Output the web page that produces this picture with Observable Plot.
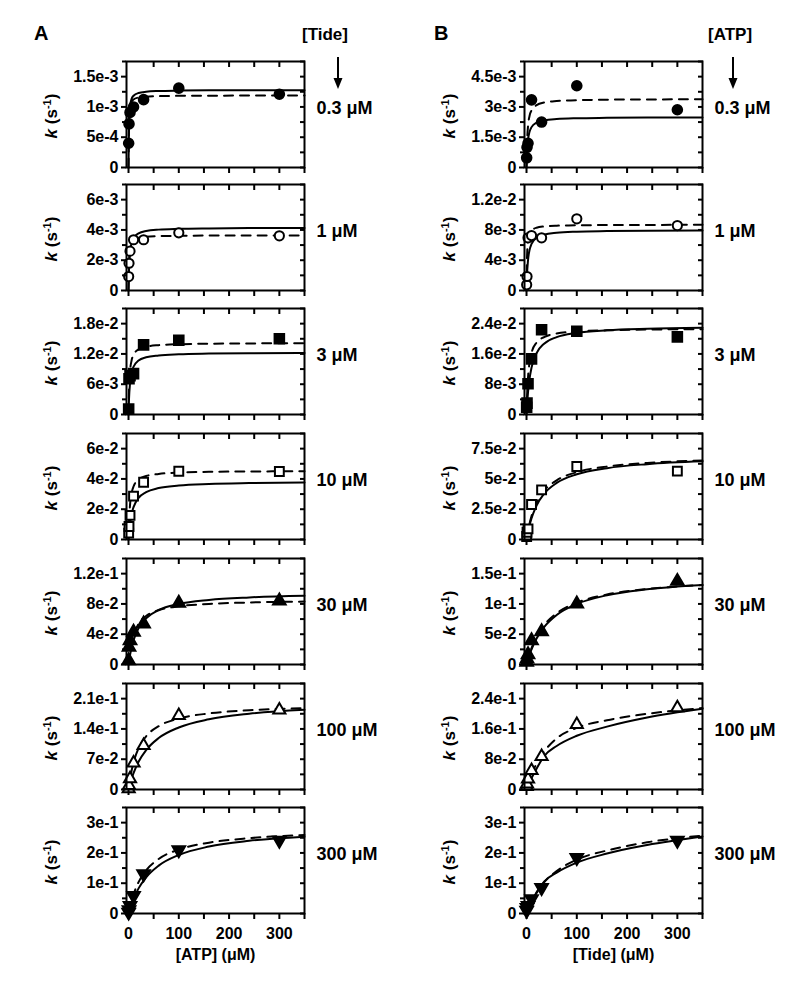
<!DOCTYPE html>
<html><head><meta charset="utf-8">
<script src="https://cdn.jsdelivr.net/npm/d3@7"></script>
<script src="https://cdn.jsdelivr.net/npm/@observablehq/plot@0.6"></script>
<style>
body{margin:0;background:#fff;}
#fig{position:relative;width:800px;height:999px;overflow:hidden;font-family:"Liberation Sans",Arial,sans-serif;font-weight:bold;color:#000;background:#fff;}
#fig svg{position:absolute;}
</style></head><body><div id="fig"></div>
<script>
// ---------- data (rates in units of 1e-3 s^-1) ----------
const xData = [0.3, 1, 3, 10, 30, 100, 300];               // µM, varied substrate
const curveX = [0, 1, 3, 6, 10, 20, 35, 60, 100, 160, 240, 350]; // sample positions
const xTicksLabeled = [0, 100, 200, 300];
const xTicksMinor = [50, 150, 250, 350];
const xTicksTop = [50, 100, 150, 200, 250, 300];

const concA = ["0.3 μM", "1 μM", "3 μM", "10 μM", "30 μM", "100 μM", "300 μM"];
const concB = ["0.3 μM", "1 μM", "3 μM", "10 μM", "30 μM", "100 μM", "300 μM"];
const yMaxA = [1.75, 7, 21, 70, 140, 245, 350];
const yMaxB = [5.25, 14, 28, 87.5, 175, 280, 350];
const tickLabelsA = [
  ["0", "5e-4", "1e-3", "1.5e-3"], ["0", "2e-3", "4e-3", "6e-3"], ["0", "6e-3", "1.2e-2", "1.8e-2"],
  ["0", "2e-2", "4e-2", "6e-2"], ["0", "4e-2", "8e-2", "1.2e-1"], ["0", "7e-2", "1.4e-1", "2.1e-1"],
  ["0", "1e-1", "2e-1", "3e-1"]];
const tickLabelsB = [
  ["0", "1.5e-3", "3e-3", "4.5e-3"], ["0", "4e-3", "8e-3", "1.2e-2"], ["0", "8e-3", "1.6e-2", "2.4e-2"],
  ["0", "2.5e-2", "5e-2", "7.5e-2"], ["0", "5e-2", "1e-1", "1.5e-1"], ["0", "8e-2", "1.6e-1", "2.4e-1"],
  ["0", "1e-1", "2e-1", "3e-1"]];

// Panel A : [ATP] varied, [Tide] fixed
const ptsA1 = [0.40, 0.72, 0.91, 1.00, 1.12, 1.31, 1.21];
const solidA1 = [0, 0.711, 1.011, 1.129, 1.185, 1.231, 1.251, 1.263, 1.270, 1.274, 1.276, 1.277];
const dashA1 = [0, 0.744, 0.992, 1.082, 1.123, 1.155, 1.170, 1.178, 1.183, 1.186, 1.187, 1.188];
const ptsA2 = [0.92, 1.8, 2.6, 3.35, 3.35, 3.81, 3.61];
const solidA2 = [0, 1.38, 2.49, 3.11, 3.46, 3.77, 3.93, 4.02, 4.07, 4.10, 4.12, 4.13];
const dashA2 = [0, 1.83, 2.74, 3.13, 3.32, 3.48, 3.55, 3.59, 3.61, 3.63, 3.64, 3.64];
const ptsA3 = [1.1, 7.1, 7.7, 8.1, 13.8, 14.7, 15.0];
const solidA3 = [0, 3.08, 6.15, 8.2, 9.46, 10.7, 11.33, 11.71, 11.94, 12.07, 12.15, 12.2];
const dashA3 = [0, 4.73, 8.52, 10.65, 11.83, 12.91, 13.43, 13.74, 13.92, 14.02, 14.08, 14.12];
const ptsA4 = [4.2, 8.6, 15.9, 28.6, 37.8, 45.1, 44.9];
const solidA4 = [0, 4.28, 10.5, 16.5, 21.4, 27.5, 31.3, 33.97, 35.65, 36.67, 37.26, 37.64];
const dashA4 = [0, 11.4, 22.75, 30.3, 35.0, 39.6, 41.9, 43.3, 44.2, 44.7, 44.9, 45.1];
const ptsA5 = [5.3, 22.9, 31.7, 42.7, 53.8, 81.0, 84.0];
const solidA5 = [0, 4.57, 12.5, 22.15, 32, 48, 61.1, 72, 80, 85.3, 88.6, 90.8];
const dashA5 = [0, 6.6, 17.2, 28.7, 39.1, 53.75, 64.0, 71.7, 76.8, 80.0, 81.9, 83.1];
const ptsA6 = [2, 9, 24.7, 61, 101.7, 171, 184];
const solidA6 = [0, 4.5, 13, 24.5, 37.8, 64, 91, 118.9, 143.4, 162.3, 175.2, 184.3];
const dashA6 = [0, 8.7, 24, 42.9, 62.5, 95.2, 122.8, 146.3, 163.9, 175.8, 183.2, 188.2];
const ptsA7 = [4, 12, 26, 59, 131, 210, 241];
const solidA7 = [0, 5.7, 16.4, 31.1, 48.3, 82.9, 119.4, 158.2, 193.3, 221, 240, 253.8];
const dashA7 = [0, 7.9, 22.5, 41.7, 63.3, 103.6, 142.5, 180, 211.1, 233.8, 248.7, 259.1];

// Panel B : [Tide] varied, [ATP] fixed
const ptsB1 = [0.48, 1.0, 1.2, 3.35, 2.25, 4.05, 2.86];
const solidB1 = [0, 0.714, 1.364, 1.765, 2.0, 2.22, 2.33, 2.4, 2.44, 2.46, 2.475, 2.48];
const dashB1 = [0, 1.13, 2.04, 2.55, 2.83, 3.09, 3.22, 3.29, 3.33, 3.36, 3.37, 3.38];
const ptsB2 = [0.75, 1.85, 6.96, 7.26, 6.96, 9.47, 8.58];
const solidB2 = [0, 2.0, 4.0, 5.33, 6.15, 6.96, 7.37, 7.62, 7.77, 7.85, 7.9, 7.93];
const dashB2 = [0, 4.35, 6.53, 7.46, 7.91, 8.29, 8.46, 8.56, 8.61, 8.65, 8.66, 8.68];
const ptsB3 = [1.9, 3.0, 8.1, 14.7, 22.4, 22.0, 20.5];
const solidB3 = [0, 2.35, 5.88, 9.4, 12.37, 16.2, 18.7, 20.43, 21.56, 22.25, 22.65, 22.91];
const dashB3 = [0, 4.56, 9.77, 13.68, 16.29, 19.0, 20.46, 21.38, 21.92, 22.24, 22.43, 22.54];
const ptsB4 = [2.5, 6.0, 8.8, 28.9, 41, 60.3, 56.4];
const solidB4 = [0, 2.26, 6.36, 11.67, 17.5, 28, 37.7, 46.7, 53.85, 58.9, 62.2, 64.5];
const dashB4 = [0, 2.59, 7.24, 13.1, 19.4, 30.4, 40.2, 48.8, 55.6, 60.2, 63.2, 65.2];
const ptsB5 = [3.9, 9.4, 16.5, 39.6, 54.5, 100, 137.5];
const solidB5 = [0, 2.94, 8.5, 16.1, 25, 42.9, 61.8, 81.8, 100, 114.3, 124.1, 131.25];
const dashB5 = [0, 3.2, 9.25, 17.4, 26.9, 45.5, 64.75, 84.6, 102.1, 115.5, 124.6, 131.1];
const ptsB6 = [8, 14.7, 27.7, 50, 87, 171.7, 215.8];
const solidB6 = [0, 3, 9, 18, 30, 55, 88, 115, 142, 166, 190, 213];
const dashB6 = [0, 4, 12, 24, 40, 68, 100, 135, 163, 183, 200, 215];
const ptsB7 = [10, 19, 26, 48.5, 85, 184, 241];
const solidB7 = [0, 4, 12, 24, 40, 70, 105, 135, 168, 198, 226, 254];
const dashB7 = [0, 4, 11, 23, 38, 68, 103, 140, 178, 208, 235, 257];

const ptsA = [ptsA1, ptsA2, ptsA3, ptsA4, ptsA5, ptsA6, ptsA7];
const solidA = [solidA1, solidA2, solidA3, solidA4, solidA5, solidA6, solidA7];
const dashA = [dashA1, dashA2, dashA3, dashA4, dashA5, dashA6, dashA7];
const ptsB = [ptsB1, ptsB2, ptsB3, ptsB4, ptsB5, ptsB6, ptsB7];
const solidB = [solidB1, solidB2, solidB3, solidB4, solidB5, solidB6, solidB7];
const dashB = [dashB1, dashB2, dashB3, dashB4, dashB5, dashB6, dashB7];

// ---------- styling / layout ----------
const symbols = ["circle", "circle", "square", "square", "triangle", "triangle", "triangle"];
const filled = [true, false, true, false, true, false, true];
const rotations = [0, 0, 0, 0, 0, 0, 180];
const radii = [4.8, 4.6, 5.4, 5.0, 4.7, 4.5, 4.7];
const frameTops = [61, 184, 308, 433, 558, 683, 807];
const colLeft = [0, 398];
const FRAME_H = 106, FRAME_W = 178, ML = 126, W = 400;
const FONT = "'Liberation Sans', Arial, sans-serif";

const fig = document.getElementById("fig");

// overlay for headers & y titles
const ov = d3.create("svg").attr("width", 800).attr("height", 999)
  .style("left", "0px").style("top", "0px")
  .attr("font-family", FONT).attr("font-weight", "bold");
fig.appendChild(ov.node());

function header(x0, letter, sub, subX, arrowX) {
  ov.append("text").attr("x", x0).attr("y", 40).attr("font-size", 20).text(letter);
  ov.append("text").attr("x", subX).attr("y", 40).attr("font-size", 17).text(sub);
  ov.append("line").attr("x1", arrowX).attr("x2", arrowX).attr("y1", 57).attr("y2", 80)
    .attr("stroke", "#000").attr("stroke-width", 2);
  ov.append("path").attr("d", `M${arrowX - 4.5},78 L${arrowX + 4.5},78 L${arrowX},89 Z`).attr("fill", "#000");
}
header(34, "A", "[Tide]", 302, 338);
header(434, "B", "[ATP]", 708, 733);

function yTitle(x, y) {
  const t = ov.append("text").attr("transform", `translate(${x},${y}) rotate(-90)`)
    .attr("text-anchor", "middle").attr("font-size", 17);
  t.append("tspan").attr("font-style", "italic").text("k");
  t.append("tspan").text(" (s");
  t.append("tspan").attr("font-size", 11).attr("dy", -6).text("-1");
  t.append("tspan").attr("dy", 6).text(")");
}

function panel(col, row, pts, solid, dash, yMax, labels, conc, xTitle) {
  const bottom = row === 6;
  const mt = 10, mb = bottom ? 70 : 10;
  const majors = labels.map(Number);
  const step = majors[1];
  const minors = majors.map(v => v + step / 2);
  const yAll = majors.concat(minors);
  const ptRows = xData.map((x, i) => ({x, k: pts[i] * 1e-3}));
  const solidRows = curveX.map((x, i) => ({x, k: solid[i] * 1e-3}));
  const dashRows = curveX.map((x, i) => ({x, k: dash[i] * 1e-3}));
  const marks = [
    Plot.line(dashRows, {x: "x", y: "k", stroke: "#000", strokeWidth: 2, strokeDasharray: "9,7", curve: "monotone-x"}),
    Plot.line(solidRows, {x: "x", y: "k", stroke: "#000", strokeWidth: 2, curve: "monotone-x"}),
    Plot.dot(ptRows, {x: "x", y: "k", symbol: symbols[row], r: radii[row], rotate: rotations[row],
      fill: filled[row] ? "#000" : "#fff", stroke: "#000", strokeWidth: 2}),
    Plot.frame({stroke: "#000", strokeWidth: 2}),
    Plot.axisY(majors, {anchor: "left", tickSize: 5, tickPadding: 3, strokeWidth: 2, fontSize: 16, label: null,
      tickFormat: d => labels[majors.indexOf(d)]}),
    Plot.axisY(minors, {anchor: "left", tickSize: 4, strokeWidth: 2, fill: "none", label: null}),
    Plot.axisY(yAll, {anchor: "right", tickSize: 5, insetRight: 5, strokeWidth: 2, fill: "none", label: null}),
    Plot.axisX(xTicksTop, {anchor: "top", tickSize: 5, insetTop: 5, strokeWidth: 2, fill: "none", label: null}),
    Plot.axisX(xTicksMinor, {anchor: "bottom", tickSize: 6, strokeWidth: 2, fill: "none", label: null}),
    Plot.axisX(xTicksLabeled, {anchor: "bottom", tickSize: 6, tickPadding: 8, strokeWidth: 2, fontSize: 16, label: null,
      fill: bottom ? "#000" : "none"}),
    Plot.text([conc], {text: d => d, frameAnchor: "right", textAnchor: "start", dx: 12, dy: -6, fontSize: 18})
  ];
  if (bottom) {
    marks.push(Plot.text([xTitle], {text: d => d, frameAnchor: "bottom", lineAnchor: "top", dy: 35, fontSize: 16}));
  }
  const svg = Plot.plot({
    width: W, height: mt + FRAME_H + mb,
    marginTop: mt, marginBottom: mb, marginLeft: ML, marginRight: W - ML - FRAME_W,
    style: {background: "none", fontFamily: FONT, fontWeight: "bold", fontSize: "16px", color: "#000", overflow: "visible"},
    x: {domain: [-4, 350]},
    y: {domain: [0, yMax * 1e-3]},
    marks
  });
  svg.style.left = colLeft[col] + "px";
  svg.style.top = (frameTops[row] - mt) + "px";
  fig.appendChild(svg);
  yTitle(colLeft[col] + 57, frameTops[row] + 55);
}

for (let r = 0; r < 7; r++) {
  panel(0, r, ptsA[r], solidA[r], dashA[r], yMaxA[r], tickLabelsA[r], concA[r], "[ATP] (μM)");
  panel(1, r, ptsB[r], solidB[r], dashB[r], yMaxB[r], tickLabelsB[r], concB[r], "[Tide] (μM)");
}
</script></body></html>
